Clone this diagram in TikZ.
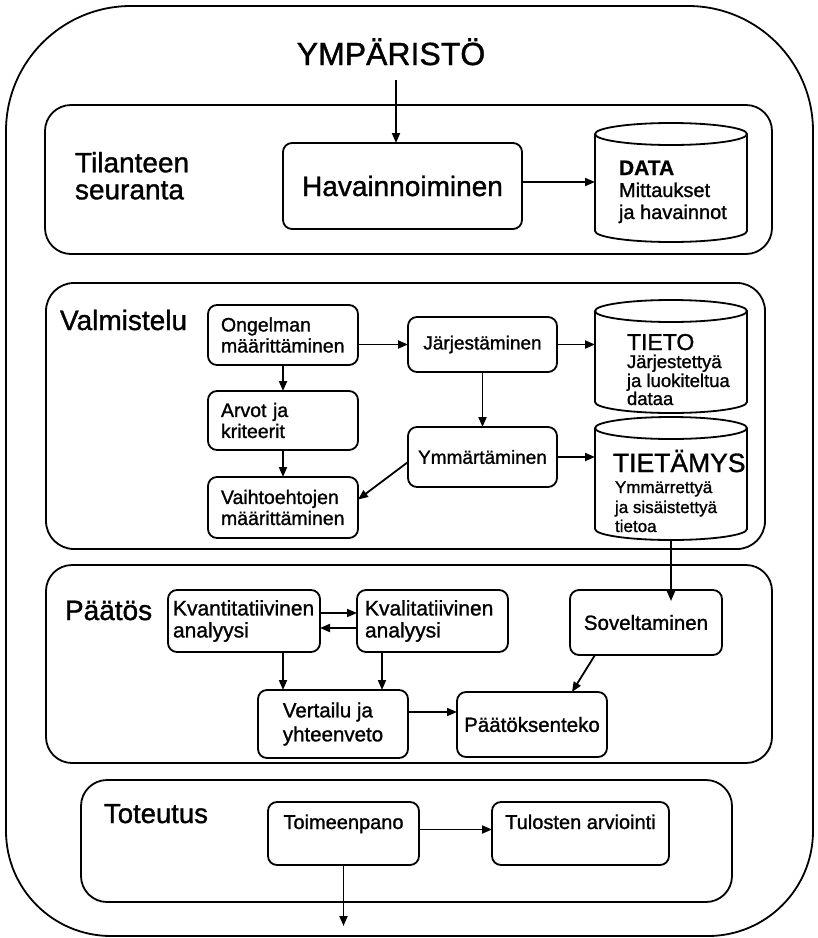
\documentclass[tikz,border=0pt]{standalone}
\usepackage{fontspec}
\setmainfont{Liberation Sans}[UprightFeatures={FakeBold=1.2},BoldFeatures={FakeBold=0.6}]
\usetikzlibrary{arrows.meta,calc}
\newcommand\fs[2]{\fontsize{#1}{#2}\selectfont}
\begin{document}
\begin{tikzpicture}[x=1pt,y=-1pt,
  every node/.style={inner sep=0pt,outer sep=0pt},
  ln/.style={line width=1.8pt},
  arr/.style={line width=1.8pt,-{Triangle[length=10pt,width=8pt]}},
  secbox/.style={draw,line width=1.8pt,rounded corners=26pt},
  box/.style={draw,line width=1.8pt,rounded corners=9pt,font=\fs{20.5}{22}},
  vbox/.style={box,align=left,text width=124pt,inner xsep=13pt,font=\fs{19.5}{21}},
  seclabel/.style={font=\fs{28}{27},align=left,anchor=base west},
  ctext/.style={anchor=base west},
  topbox/.style={box,anchor=base,font=\fs{20}{22},text height=25pt,text depth=34pt,inner ysep=2pt},
]
\useasboundingbox (0,0) rectangle (818,938);

% outer frame
\draw[ln] (6,480) [rounded corners=105pt] -- (6,936) -- (813,936) -- (813,480)
  [rounded corners=125pt] -- (813,6) -- (6,6) -- cycle;

\node[font=\fs{32}{36},anchor=base] (title) at (391,65) {YMPÄRISTÖ};

% section boxes
\node[secbox,minimum width=727pt,minimum height=149pt] (sec1) at (408.5,179.5) {};
\node[secbox,minimum width=719pt,minimum height=266pt,rounded corners=28pt] (sec2) at (405.5,416) {};
\node[secbox,minimum width=726pt,minimum height=198pt] (sec3) at (409,664) {};
\node[secbox,minimum width=651pt,minimum height=122pt] (sec4) at (406.5,841) {};

% section labels
\node[seclabel,anchor=north west] (lab1) at (75,152) {Tilanteen\\seuranta};
\node[seclabel] (lab2) at (60,330) {Valmistelu};
\node[seclabel] (lab3) at (65,620) {Päätös};
\node[seclabel,font=\fs{27.5}{25}] (lab4) at (104,823) {Toteutus};

% Tilanteen seuranta
\node[box,minimum width=239pt,minimum height=86pt,font=\fs{28}{30}] (hav) at (402.5,186) {Havainnoiminen};
\node[minimum width=152pt,minimum height=97pt] (data) at (671,182.5) {};
\draw[ln] (595,134) -- (595,231) arc[start angle=180,end angle=360,x radius=76pt,y radius=11pt] -- (747,134);
\draw[ln] (671,134) ellipse[x radius=76pt,y radius=11pt];
\node[ctext,font=\fs{21}{22}\bfseries] (dataT) at (619,175) {DATA};
\node[ctext,font=\fs{20}{22}] (dataA) at (619,197) {Mittaukset};
\node[ctext,font=\fs{20}{22}] (dataB) at (619,219) {ja havainnot};

% Valmistelu
\node[vbox,minimum height=60pt] (ong) at (283,335) {Ongelman\\määrittäminen};
\node[vbox,minimum height=59pt] (arv) at (283,420.5) {Arvot ja\\kriteerit};
\node[vbox,minimum height=61pt] (vai) at (283,507.5) {Vaihtoehtojen\\määrittäminen};
\node[box,minimum width=149pt,minimum height=55pt,font=\fs{19}{21}] (jar) at (482.5,344.5) {Järjestäminen};
\node[box,minimum width=149pt,minimum height=60pt,font=\fs{19}{21}] (ymm) at (482.5,457) {Ymmärtäminen};

\node[minimum width=152pt,minimum height=91pt] (tieto) at (671,356.5) {};
\draw[ln] (595,311) -- (595,402) arc[start angle=180,end angle=360,x radius=76pt,y radius=11pt] -- (747,311);
\draw[ln] (671,311) ellipse[x radius=76pt,y radius=11pt];
\node[ctext,font=\fs{23}{24}] (tietoT) at (627,350) {TIETO};
\node[ctext,font=\fs{18.5}{19}] (tietoA) at (627,368) {Järjestettyä};
\node[ctext,font=\fs{18.5}{19}] (tietoB) at (627,387) {ja luokiteltua};
\node[ctext,font=\fs{18.5}{19}] (tietoC) at (627,405) {dataa};

\node[minimum width=152pt,minimum height=101pt] (tiet) at (671,478.5) {};
\draw[ln] (595,428) -- (595,529) arc[start angle=180,end angle=360,x radius=76pt,y radius=11pt] -- (747,428);
\draw[ln] (671,428) ellipse[x radius=76pt,y radius=11pt];
\node[ctext,font=\fs{26.5}{28}] (tietT) at (613,472) {TIETÄMYS};
\node[ctext,font=\fs{17}{19}] (tietA) at (615,493) {Ymmärrettyä};
\node[ctext,font=\fs{17}{19}] (tietB) at (615,513) {ja sisäistettyä};
\node[ctext,font=\fs{17}{19}] (tietC) at (615,532) {tietoa};

% Paatos
\node[box,align=left,text width=142pt,inner xsep=5pt,minimum height=62pt,font=\fs{21}{22}] (kvan) at (244,621) {Kvantitatiivinen\\analyysi};
\node[box,align=left,text width=135pt,inner xsep=8pt,minimum height=62pt,font=\fs{21}{22}] (kval) at (432.5,621) {Kvalitatiivinen\\analyysi};
\node[box,minimum width=152pt,minimum height=65pt] (sov) at (646,622.5) {Soveltaminen};
\node[box,align=left,minimum width=150pt,minimum height=68pt,font=\fs{20.5}{24}] (ver) at (333,724) {Vertailu ja\\yhteenveto};
\node[box,minimum width=150pt,minimum height=65pt] (paa) at (532,724.5) {Päätöksenteko};

% Toteutus
\node[topbox,minimum width=151pt] (toi) at (343.5,829) {Toimeenpano};
\node[topbox,minimum width=177pt] (tul) at (580.5,829) {Tulosten arviointi};
\coordinate (exit) at (343.5,926);
\coordinate (tin) at (396,80);

% connectors
\draw[arr] (tin) -- (tin |- hav.north);
\draw[arr] ([yshift=4pt]hav.east) -- ([yshift=4pt]hav.east -| data.west);
\draw[arr] (jar.west -| ong.east) -- (jar.west);
\draw[arr] (jar.east) -- (jar.east -| tieto.west);
\draw[arr] (ong.south) -- (arv.north);
\draw[arr] (arv.south) -- (vai.north);
\draw[arr] (jar.south) -- (ymm.north);
\draw[arr] (ymm.east) -- (ymm.east -| tiet.west);
\draw[arr] ([yshift=-5pt]ymm.west) -- ([yshift=8pt]vai.east);
\draw[arr] ([yshift=-11pt]tiet.south) -- ([yshift=-11pt]tiet.south |- sov.north);
\draw[arr] ([yshift=8pt]kvan.east) -- ([yshift=8pt]kvan.east -| kval.west);
\draw[arr] ([yshift=-7pt]kval.west) -- ([yshift=-7pt]kval.west -| kvan.east);
\draw[arr] ([xshift=39pt]kvan.south) -- ([xshift=39pt]kvan.south |- ver.north);
\draw[arr] ([xshift=-50.5pt]kval.south) -- ([xshift=-50.5pt]kval.south |- ver.north);
\draw[arr] ([yshift=12pt]ver.east) -- ([yshift=12pt]ver.east -| paa.west);
\draw[arr] ([xshift=-51pt]sov.south) -- ([xshift=40pt]paa.north);
\draw[arr] ([yshift=4pt]toi.east) -- ([yshift=4pt]toi.east -| tul.west);
\draw[arr] (toi.south) -- (exit);
\end{tikzpicture}
\end{document}
